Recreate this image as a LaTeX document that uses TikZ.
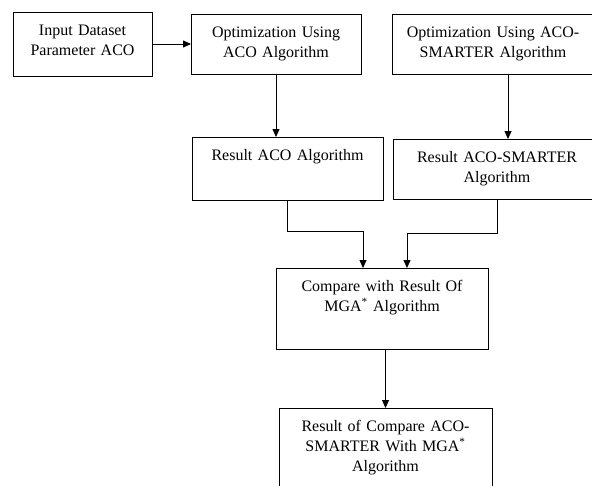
\documentclass[tikz,border=0pt]{standalone}
\usepackage{fontspec}
\setmainfont{Liberation Serif}
\usepackage{tikz}
\usetikzlibrary{shapes,arrows,arrows.meta,positioning}
\tikzstyle{arrow} = [line width=0.8pt,->,>={Triangle[length=8pt,width=7pt]}]

\begin{document}
\begin{tikzpicture}[
        x=1pt, y=-1pt,
        every node/.style={align=center, font=\fontsize{16}{20}\selectfont, inner sep=0pt, outer sep=0pt},
        block/.style={draw, line width=0.8pt, anchor=north west, text height=23.5pt}
        ]
        \clip (0,0) rectangle (592,485);
        \node[block, text width=139pt, text depth=40.5pt] (input) at (13,12) {Input Dataset\\Parameter ACO};
        \node[block, text width=170pt, text depth=36.5pt] (optACO) at (191,14) {Optimization Using\\ACO Algorithm};
        \node[block, text width=202pt, text depth=36.5pt] (optSmarter) at (392,14) {Optimization Using ACO-\\SMARTER Algorithm};
        \node[block, text width=191pt, text depth=39.5pt] (resACO) at (192,137) {Result ACO Algorithm};
        \node[block, text width=208pt, text depth=36.5pt] (resSmarter) at (393,139) {Result ACO-SMARTER\\Algorithm};
        \node[block, text width=212pt, text depth=57.5pt] (compare) at (276,268) {Compare with Result Of\\MGA\textsuperscript{*} Algorithm};
        \node[block, text width=213pt, text depth=68.5pt] (result) at (279,408) {Result of Compare ACO-\\SMARTER With MGA\textsuperscript{*}\\Algorithm};

        \draw[arrow] (input) -- (optACO);
        \draw[arrow] (optACO.south) -- (optACO.south |- resACO.north);
        \draw[arrow] ([xshift=15pt]optSmarter.south) -- ([xshift=15pt]optSmarter.south |- resSmarter.north);
        \draw[arrow] (resACO.south) -- ++(0,31) -| ([xshift=-19pt]compare.north);
        \draw[arrow] (resSmarter.south) -- ++(0,34) -| ([xshift=25pt]compare.north);
        \draw[arrow] (result.north |- compare.south) -- (result.north);
    \end{tikzpicture}
\end{document}
